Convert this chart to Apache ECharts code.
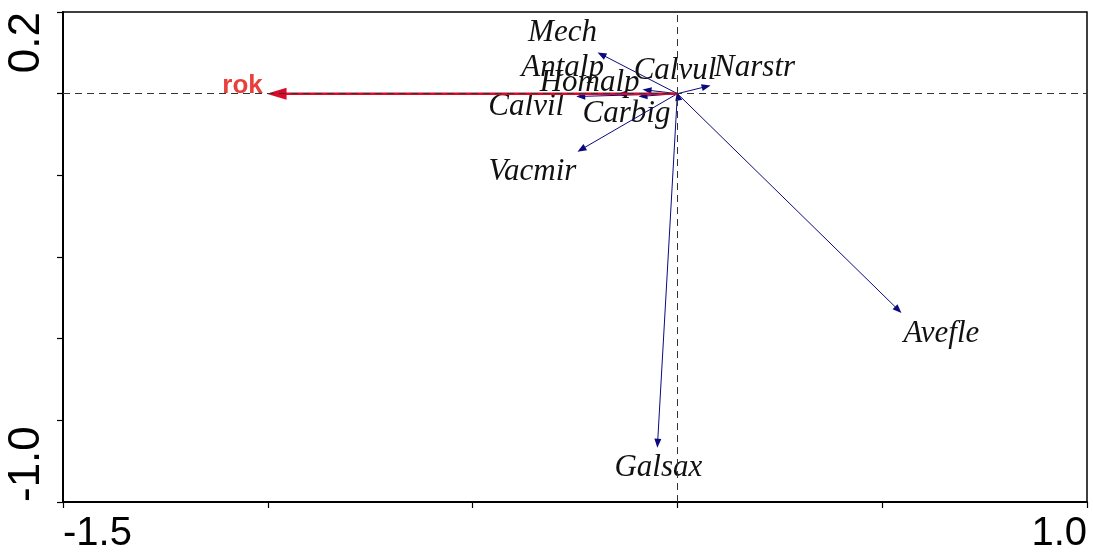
<!DOCTYPE html>
<html>
<head>
<meta charset="utf-8">
<script src="https://cdn.jsdelivr.net/npm/echarts@6/dist/echarts.min.js"></script>
<style>html,body{margin:0;padding:0;background:#fff}#chart{width:1094px;height:554px}</style>
</head>
<body>
<div id="chart"></div>
<script>
// ---- data ----
const speciesNames = ['Mech', 'Antalp', 'Homalp', 'Calvil', 'Carbig', 'Calvul', 'Narstr', 'Vacmir', 'Avefle', 'Galsax'];
const speciesX = [-0.195, -0.146, -0.085, -0.247, -0.095, -0.001, 0.081, -0.244, 0.547, -0.049];
const speciesY = [0.101, -0.001, 0.010, -0.007, -0.007, 0.005, 0.020, -0.142, -0.537, -0.867];
const envNames = ['rok'];
const envX = [-1.003];
const envY = [0.0];
const xTickLabels = ['-1.5', '1.0'];
const yTickLabels = ['0.2', '-1.0'];

// ---- style (label placement offsets in px, relative to arrow tip) ----
const labelOffset = {
  Mech: [-35, -20], Antalp: [-55, -26], Homalp: [-53, -7], Calvil: [-50, 10],
  Carbig: [-12, 17], Calvul: [-2, -21], Narstr: [44, -18], Vacmir: [-45, 20],
  Avefle: [40, 21], Galsax: [1, 20], rok: [-24, -8]
};

const speciesData = speciesNames.map((n, i) => [speciesX[i], speciesY[i], n]);
const envData = envNames.map((n, i) => [envX[i], envY[i], n]);

function arrowRenderer(opts) {
  return function (params, api) {
    const x = api.value(0), y = api.value(1);
    const label = opts.names[params.dataIndex];
    const o = api.coord([0, 0]);
    const t = api.coord([x, y]);
    const dx = t[0] - o[0], dy = t[1] - o[1];
    const len = Math.sqrt(dx * dx + dy * dy);
    let ux, uy;
    if (len < 1e-6) { ux = 0; uy = -1; } else { ux = dx / len; uy = dy / len; }
    const hl = opts.headLen, hw = opts.headHalf;
    const bx = t[0] - ux * hl, by = t[1] - uy * hl;
    const px = -uy, py = ux;
    const off = labelOffset[label] || [0, 0];
    return {
      type: 'group',
      children: [
        { type: 'line', shape: { x1: o[0], y1: o[1], x2: bx + ux, y2: by + uy },
          style: { stroke: opts.color, lineWidth: opts.lineWidth } },
        { type: 'polygon', shape: { points: [[t[0], t[1]], [bx + px * hw, by + py * hw], [bx - px * hw, by - py * hw]] },
          style: { fill: opts.color } },
        { type: 'text', x: t[0] + off[0], y: t[1] + off[1],
          style: { text: label, font: opts.font, fill: opts.textColor, align: 'center', verticalAlign: 'middle' } }
      ]
    };
  };
}

const chart = echarts.init(document.getElementById('chart'), null, { renderer: 'canvas' });
const axisFont = '"Liberation Sans", Arial, sans-serif';
chart.setOption({
  animation: false,
  backgroundColor: '#fff',
  grid: { left: 63, right: 7, top: 12, bottom: 52, show: true, borderColor: '#000', borderWidth: 1.5, containLabel: false, outerBoundsMode: 'none' },
  xAxis: [{
    type: 'value', min: -1.5, max: 1.0, interval: 0.5, position: 'bottom',
    axisLine: { show: true, onZero: false, lineStyle: { color: '#000', width: 2 } },
    axisTick: { show: true, length: 6, lineStyle: { color: '#000', width: 1.2 } },
    splitLine: { show: false },
    axisLabel: {
      show: true, margin: 12, color: '#000', fontFamily: axisFont, fontSize: 40,
      alignMinLabel: 'left', alignMaxLabel: 'right', hideOverlap: false,
      formatter: v => { const s = v.toFixed(1); return xTickLabels.includes(s) ? s : ''; }
    }
  }],
  yAxis: [{
    type: 'value', min: -1.0, max: 0.2, interval: 0.2, position: 'left',
    axisLine: { show: true, onZero: false, lineStyle: { color: '#000', width: 2 } },
    axisTick: { show: true, length: 6, lineStyle: { color: '#000', width: 1.2 } },
    splitLine: { show: false },
    axisLabel: {
      show: true, rotate: 90, margin: 14, color: '#000', fontFamily: axisFont, fontSize: 44,
      alignMinLabel: 'left', alignMaxLabel: 'right', hideOverlap: false,
      formatter: v => { const s = (Math.abs(v) < 1e-9 ? 0 : v).toFixed(1); return yTickLabels.includes(s) ? s : ''; }
    }
  }],
  series: [
    {
      type: 'line', data: [], silent: true, z: 1,
      markLine: {
        silent: true, symbol: 'none', animation: false,
        label: { show: false },
        lineStyle: { color: '#333', width: 1, type: [7, 5] },
        data: [{ xAxis: 0 }, { yAxis: 0 }]
      }
    },
    {
      type: 'custom', z: 3, silent: true,
      renderItem: arrowRenderer({ names: speciesNames, color: '#0a0a80', textColor: '#111', lineWidth: 1, headLen: 9, headHalf: 3.5,
        font: 'italic 31px "Liberation Serif", "Times New Roman", serif' }),
      data: speciesData
    },
    {
      type: 'custom', z: 4, silent: true,
      renderItem: arrowRenderer({ names: envNames, color: '#dc0a2a', textColor: '#e8403c', lineWidth: 2.5, headLen: 20, headHalf: 6,
        font: 'bold 26px "Liberation Sans", Arial, sans-serif' }),
      data: envData
    }
  ]
});
</script>
</body>
</html>
